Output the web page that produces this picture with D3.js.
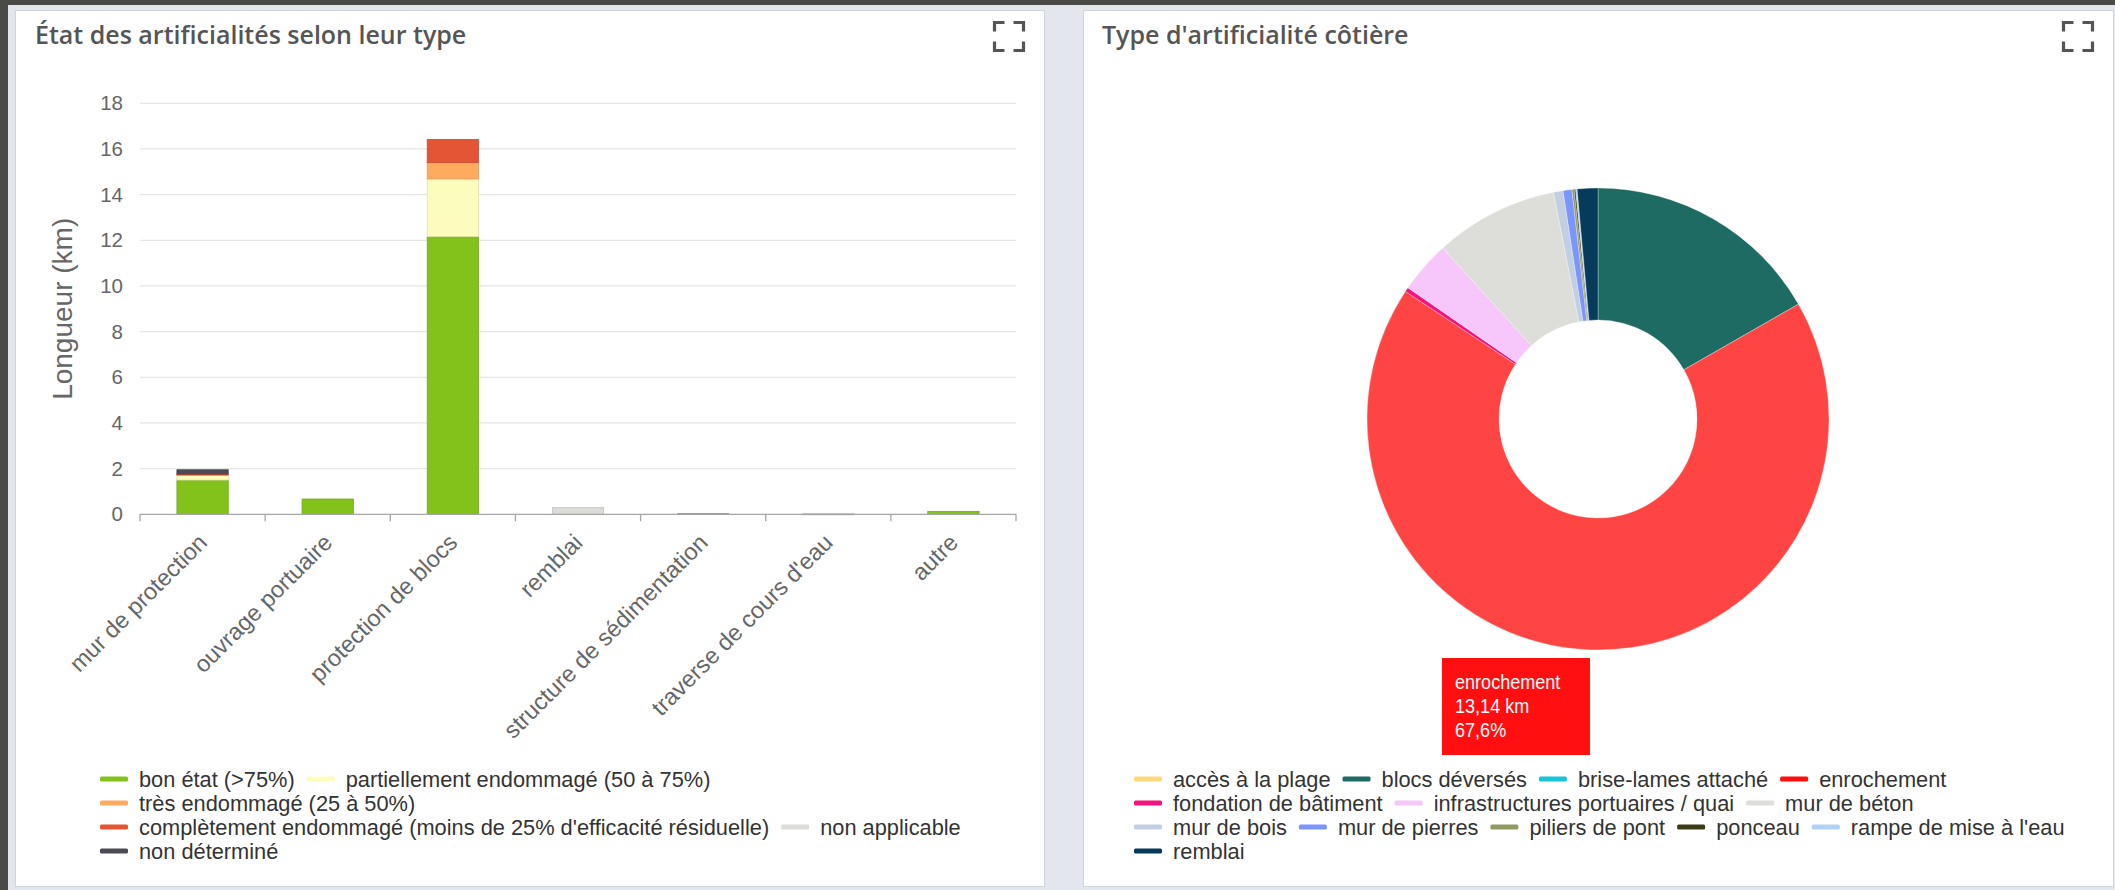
<!DOCTYPE html>
<html><head><meta charset="utf-8">
<script src="https://cdn.jsdelivr.net/npm/d3@7/dist/d3.min.js"></script>
<style>
html,body{margin:0;padding:0;background:#e3e6ed;overflow:hidden}
svg{display:block}
text{font-family:"Liberation Sans",Arial,sans-serif}
.title{font-family:"Open Sans",sans-serif;font-size:25px;font-weight:600;fill:#555}
</style></head><body>
<svg id="c" width="2115" height="890"></svg>
<script>
// ---------- DATA ----------
const categories = ["mur de protection","ouvrage portuaire","protection de blocs","remblai","structure de sédimentation","traverse de cours d'eau","autre"];
const conditionNames = ["bon état (>75%)","partiellement endommagé (50 à 75%)","très endommagé (25 à 50%)","complètement endommagé (moins de 25% d'efficacité résiduelle)","non applicable","non déterminé"];
const conditionColors = ["#82c21a","#fcfdbd","#ffab5f","#e35535","#dcdcd9","#4c4b55"];
const bonEtat        = [1.50, 0.67, 12.16, 0,    0.03, 0.015, 0.13];
const partiellement  = [0.20, 0,    2.53,  0,    0,    0,     0];
const tresEndommage  = [0.05, 0,    0.71,  0,    0,    0,     0];
const completement   = [0.02, 0,    1.02,  0,    0,    0,     0];
const nonApplicable  = [0,    0,    0,     0.29, 0,    0,     0];
const nonDetermine   = [0.18, 0,    0,     0,    0,    0,     0];
const yTicks = [0,2,4,6,8,10,12,14,16,18];
const yTitle = "Longueur (km)";

const typeNames = ["accès à la plage","blocs déversés","brise-lames attaché","enrochement","fondation de bâtiment","infrastructures portuaires / quai","mur de béton","mur de bois","mur de pierres","piliers de pont","ponceau","rampe de mise à l'eau","remblai"];
const typeValues = [0, 3.25, 0, 13.14, 0.06, 0.71, 1.68, 0.13, 0.12, 0.03, 0.02, 0.02, 0.28];
const typeColors = ["#fdd87f","#1e6b64","#19c3d6","#ff0f0f","#f5137f","#f7c6fb","#ddddd9","#c2cfe2","#7b95fb","#8f9b61","#3b3c16","#afd2f6","#073b5c"];
const hoveredType = "enrochement";

const title1 = "État des artificialités selon leur type";
const title2 = "Type d'artificialité côtière";

// ---------- LAYOUT ----------
const svg = d3.select("#c");
svg.append("rect").attr("width",2115).attr("height",890).attr("fill","#e3e6ed");
svg.append("rect").attr("width",2115).attr("height",5).attr("fill","#4a4b46");
svg.append("rect").attr("width",8).attr("height",890).attr("fill","#4a4b46");

function card(x0,x1){
  svg.append("rect").attr("x",x0+0.5).attr("y",10.5).attr("width",x1-x0-1).attr("height",876)
    .attr("fill","#fff").attr("stroke","#d0d4db").attr("stroke-width",1);
}
card(15,1045); card(1083,2114);

function expandIcon(x0,y0){
  const w=29,h=28,l=9;
  const p = d3.path();
  p.moveTo(x0,y0+l); p.lineTo(x0,y0); p.lineTo(x0+l+1,y0);
  p.moveTo(x0+w-l-1,y0); p.lineTo(x0+w,y0); p.lineTo(x0+w,y0+l);
  p.moveTo(x0,y0+h-l); p.lineTo(x0,y0+h); p.lineTo(x0+l+1,y0+h);
  p.moveTo(x0+w-l-1,y0+h); p.lineTo(x0+w,y0+h); p.lineTo(x0+w,y0+h-l);
  svg.append("path").attr("d",p.toString()).attr("fill","none").attr("stroke","#555").attr("stroke-width",3.2);
}
expandIcon(994.5,22.5); expandIcon(2063.5,22.5);

svg.append("text").attr("class","title").attr("x",35).attr("y",44).text(title1);
svg.append("text").attr("class","title").attr("x",1102).attr("y",44).text(title2);

// ---------- BAR CHART ----------
const plot = {x0:140, x1:1016, y0:103.3, y1:514.3};
const y = d3.scaleLinear().domain([0,18]).range([plot.y1, plot.y0]);
const xOuter = d3.scaleBand().domain(categories).range([plot.x0, plot.x1]).padding(0);
const xBar = d3.scaleBand().domain(categories).range([plot.x0, plot.x1]).paddingInner(0.59).paddingOuter(0.295);

const g = svg.append("g");
g.selectAll("line.grid").data(yTicks.filter(t=>t>0)).join("line")
  .attr("x1",plot.x0).attr("x2",plot.x1).attr("y1",d=>y(d)).attr("y2",d=>y(d))
  .attr("stroke","#e6e6e6").attr("stroke-width",1.2);
g.selectAll("text.ylab").data(yTicks).join("text")
  .attr("x",123).attr("y",d=>y(d)+7).attr("text-anchor","end")
  .attr("font-size",20.5).attr("fill","#666").text(d=>d);
g.append("text").attr("transform",`translate(72,${(plot.y0+plot.y1)/2}) rotate(-90)`)
  .attr("text-anchor","middle").attr("font-size",28).attr("fill","#666").text(yTitle);

const seriesArrays = [bonEtat,partiellement,tresEndommage,completement,nonApplicable,nonDetermine];
const rows = categories.map((c,i)=>{const r={cat:c}; conditionNames.forEach((n,k)=>r[n]=seriesArrays[k][i]); return r;});
const stack = d3.stack().keys(conditionNames)(rows);
stack.forEach((s,k)=>{
  const col = conditionColors[k];
  g.selectAll(null).data(s.filter(d=>d[1]-d[0]>0)).join("rect")
    .attr("x",d=>xBar(d.data.cat)).attr("width",xBar.bandwidth())
    .attr("y",d=>y(d[1])).attr("height",d=>Math.max(0.8,y(d[0])-y(d[1])))
    .attr("fill",col).attr("stroke",d3.color(col).darker(0.35)).attr("stroke-width",0.8);
});

g.append("line").attr("x1",plot.x0).attr("x2",plot.x1).attr("y1",plot.y1).attr("y2",plot.y1)
  .attr("stroke","#a6a6a6").attr("stroke-width",1.3);
const tickPos = categories.map(c=>xOuter(c)).concat([plot.x1]);
g.selectAll("line.tick").data(tickPos).join("line")
  .attr("x1",d=>d).attr("x2",d=>d).attr("y1",plot.y1).attr("y2",plot.y1+7)
  .attr("stroke","#a6a6a6").attr("stroke-width",1.3);
g.selectAll("text.xlab").data(categories).join("text")
  .attr("transform",d=>`translate(${xOuter(d)+xOuter.bandwidth()/2+6},544) rotate(-45)`)
  .attr("text-anchor","end").attr("font-size",23.5).attr("fill","#666").text(d=>d);

// ---------- LEGEND ----------
function legend(items,startX,maxX,baseY){
  const lg = svg.append("g");
  let x=startX, yb=baseY;
  items.forEach(it=>{
    const t = lg.append("text").attr("font-size",21.8).attr("fill","#333").text(it.name);
    const w = t.node().getComputedTextLength();
    if (x>startX && x+39+w>maxX){ x=startX; yb+=24; }
    lg.append("rect").attr("x",x).attr("y",yb-10.5).attr("width",28).attr("height",5).attr("rx",1.5).attr("fill",it.color);
    t.attr("x",x+39).attr("y",yb);
    x += 39 + w + 12;
  });
}
legend(conditionNames.map((n,i)=>({name:n,color:conditionColors[i]})),100,1000,787);
legend(typeNames.map((n,i)=>({name:n,color:typeColors[i]})),1134,2072,787);

// ---------- DONUT ----------
const cx=1598, cy=419;
const total = d3.sum(typeValues);
const pie = d3.pie().sort(null).value(d=>d.v)(typeNames.map((n,i)=>({n,v:typeValues[i],c:typeColors[i]})));
const arc = d3.arc().innerRadius(99).outerRadius(231);
const dg = svg.append("g").attr("transform",`translate(${cx},${cy})`);
dg.selectAll("path").data(pie.filter(d=>d.data.v>0)).join("path")
  .attr("d",arc)
  .attr("fill",d=>d.data.n===hoveredType ? d3.interpolateRgb(d.data.c,"#fff")(0.22) : d.data.c)
  .attr("stroke","#fff").attr("stroke-width",0.5).attr("stroke-opacity",0.6);

const hi = typeNames.indexOf(hoveredType);
const fmt = (v,dec)=>v.toFixed(dec).replace(".",",");
const tg = svg.append("g");
tg.append("rect").attr("x",1442).attr("y",658).attr("width",148).attr("height",97).attr("fill",typeColors[hi]);
[hoveredType, fmt(typeValues[hi],2)+" km", fmt(typeValues[hi]/total*100,1)+"%"].forEach((s,i)=>{
  tg.append("text").attr("transform",`translate(1455,${689+i*24}) scale(0.86,1)`)
    .attr("font-size",21).attr("fill","#fff").text(s);
});
</script>
</body></html>
